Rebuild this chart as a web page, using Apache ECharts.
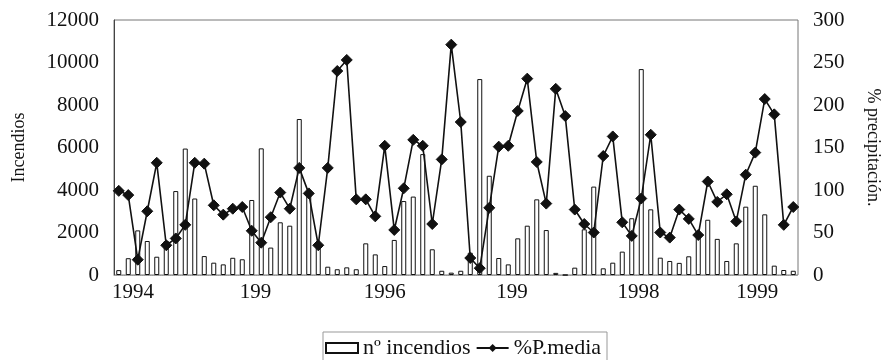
<!DOCTYPE html>
<html><head><meta charset="utf-8">
<script src="https://cdn.jsdelivr.net/npm/echarts@6/dist/echarts.min.js"></script>
<style>html,body{margin:0;padding:0;background:#fff}#c{width:896px;height:360px}</style>
</head><body><div id="c"></div>
<script>
// Categories: monthly, Jan 1994 – Dec 1999
const years = ['1994','1995','1996','1997','1998','1999'];
const monthNames = ['01','02','03','04','05','06','07','08','09','10','11','12'];
const categories = [];
years.forEach(y => monthNames.forEach(m => categories.push(y + '-' + m)));

// nº incendios (left axis)
const incendios = [
  230, 790, 2100, 1600, 860, 1600, 3950, 5950, 3600, 890, 580, 500,
  810, 740, 3530, 5960, 1290, 2480, 2320, 7340, 3840, 1450, 390, 270,
  360, 270, 1490, 970, 420, 1650, 3480, 3690, 5690, 1210, 200, 110,
  200, 1050, 9220, 4670, 800, 500, 1725, 2320, 3560, 2115, 100, 0,
  345, 2150, 4160, 314, 580, 1100, 2670, 9690, 3090, 815, 660, 570,
  880, 1800, 2600, 1700, 660, 1490, 3215, 4200, 2855, 440, 235, 200
];

// %P.media (right axis)
const pMedia = [
  99, 94, 18, 75, 132, 35, 43, 59, 132, 131, 82, 71,
  78, 80, 52, 38, 68, 97, 78, 126, 96, 35, 126, 240,
  253, 89, 89, 69, 152, 53, 102, 159, 152, 60, 136, 271,
  180, 20, 8, 79, 151, 152, 193, 231, 133, 84, 219, 187,
  77, 60, 50, 140, 163, 62, 46, 90, 165, 50, 44, 77,
  66, 47, 110, 86, 95, 63, 118, 144, 207, 189, 59, 80
];

// x tick labels (as printed) and their positions in month units
const xTickLabels = ['1994', '199', '1996', '199', '1998', '1999'];
const xTickPos = [2.0, 14.9, 28.5, 41.9, 55.2, 67.7];

const leftTicks = { min: 0, max: 12000, interval: 2000 };
const rightTicks = { min: 0, max: 300, interval: 50 };

const FONT = "'Liberation Serif', 'Times New Roman', serif";
const chart = echarts.init(document.getElementById('c'), null, { renderer: 'canvas' });

chart.setOption({
  animation: false,
  backgroundColor: '#ffffff',
  textStyle: { fontFamily: FONT, color: '#111' },
  grid: { left: 114, right: 98, top: 20, bottom: 85, show: true, borderColor: '#777', borderWidth: 1 },
  legend: {
    left: 323, top: 332,
    padding: [5, 6, 6, 2],
    itemGap: 5,
    itemWidth: 32, itemHeight: 10,
    borderColor: '#999', borderWidth: 1,
    textStyle: { fontFamily: FONT, fontSize: 22, color: '#111' },
    data: [
      { name: 'nº incendios', icon: 'rect' },
      { name: '%P.media' }
    ]
  },
  xAxis: [
    {
      type: 'category', data: categories, boundaryGap: true,
      axisLine: { show: true, lineStyle: { color: '#999', type: 'dotted', width: 1 } },
      axisTick: { show: false }, axisLabel: { show: false }, splitLine: { show: false }
    },
    {
      type: 'value', min: 0, max: 72, position: 'bottom', offset: 0,
      axisLine: { show: false }, axisTick: { show: false }, splitLine: { show: false },
      axisLabel: {
        show: true, margin: 7, fontSize: 21, color: '#111', fontFamily: FONT,
        customValues: xTickPos,
        formatter: function (v) {
          let best = 0, d = 1e9;
          xTickPos.forEach((p, i) => { if (Math.abs(p - v) < d) { d = Math.abs(p - v); best = i; } });
          return xTickLabels[best];
        }
      }
    }
  ],
  yAxis: [
    {
      type: 'value', min: leftTicks.min, max: leftTicks.max, interval: leftTicks.interval,
      name: 'Incendios', nameLocation: 'middle', nameRotate: 90, nameGap: 86,
      nameTextStyle: { fontFamily: FONT, fontSize: 18, color: '#111' },
      axisLine: { show: true, lineStyle: { color: '#444', width: 1 } },
      axisTick: { show: false }, splitLine: { show: false },
      axisLabel: { margin: 15, fontSize: 21, color: '#111', fontFamily: FONT,
        formatter: v => String(v) }
    },
    {
      type: 'value', min: rightTicks.min, max: rightTicks.max, interval: rightTicks.interval,
      position: 'right',
      name: '% precipitación.', nameLocation: 'middle', nameRotate: -90, nameGap: 66,
      nameTextStyle: { fontFamily: FONT, fontSize: 18, color: '#111' },
      axisLine: { show: false }, axisTick: { show: false }, splitLine: { show: false },
      axisLabel: { margin: 15, fontSize: 21, color: '#111', fontFamily: FONT,
        formatter: v => String(v) }
    }
  ],
  series: [
    {
      name: 'nº incendios', type: 'bar', xAxisIndex: 0, yAxisIndex: 0,
      data: incendios, barWidth: 5,
      itemStyle: { color: '#ffffff', borderColor: '#111', borderWidth: 1 },
      z: 2
    },
    {
      name: '%P.media', type: 'line', xAxisIndex: 0, yAxisIndex: 1,
      data: pMedia, symbol: 'diamond', symbolSize: 11,
      showSymbol: true, showAllSymbol: true,
      lineStyle: { color: '#111', width: 1.6 },
      itemStyle: { color: '#111', borderColor: '#111' },
      z: 3
    }
  ]
});
</script>
</body></html>
